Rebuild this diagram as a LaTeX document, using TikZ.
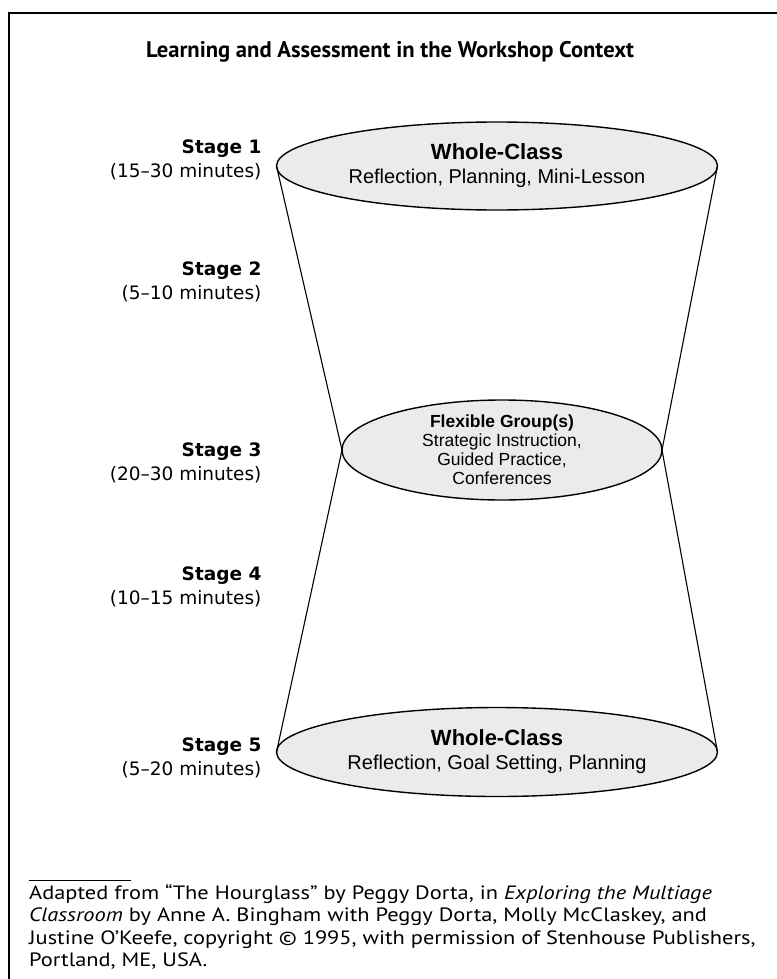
\documentclass[tikz,border=0pt]{standalone}
\usepackage{fontspec}
\setmainfont{PT Sans}
\newfontfamily\notefont{PT Sans}[FakeStretch=1.16]
\newfontfamily\ellfont{Liberation Sans}
\newfontfamily\stagefont{DejaVu Sans}
\usetikzlibrary{shapes.geometric}
\definecolor{ellfill}{HTML}{EBEBEB}
\tikzset{
  bowl/.style={ellipse, draw=black, line width=1.4pt, fill=ellfill, inner sep=0pt, outer sep=0pt, align=center, font=\ellfont\fontsize{20}{24}\selectfont},
  midbowl/.style={bowl, font=\ellfont\fontsize{17.5}{19}\selectfont},
  stagelbl/.style={anchor=east, align=right, font=\stagefont\fontsize{18.5}{24}\selectfont},
  side/.style={line width=1.1pt},
}
\begin{document}
\begin{tikzpicture}[x=1pt,y=-1pt]
\useasboundingbox (0,0) rectangle (776,979);
\draw[line width=2pt] (9,13) rectangle (800,1010);
\node (title) at (390,52) {\fontsize{22.6}{26}\selectfont\bfseries Learning and Assessment in the Workshop Context};

\node[bowl, minimum width=441pt, minimum height=88pt] (top) at (497,166) {{\bfseries\fontsize{22}{24}\selectfont Whole-Class}\\Reflection, Planning, Mini-Lesson};
\node[midbowl, minimum width=320pt, minimum height=100pt] (mid) at (502,450) {{\bfseries Flexible Group(s)}\\Strategic Instruction,\\Guided Practice,\\Conferences};
\node[bowl, minimum width=441pt, minimum height=89pt] (bot) at (497,752) {{\bfseries\fontsize{22}{24}\selectfont Whole-Class}\\Reflection, Goal Setting, Planning};

\draw[side] (top.west) -- (mid.west) -- (bot.west);
\draw[side] (top.east) -- (mid.east) -- (bot.east);

\node[stagelbl] (s1) at (265,160) {{\bfseries Stage 1}\\(15–30 minutes)};
\node[stagelbl] (s2) at (265,282) {{\bfseries Stage 2}\\(5–10 minutes)};
\node[stagelbl] (s3) at (265,463) {{\bfseries Stage 3}\\(20–30 minutes)};
\node[stagelbl] (s4) at (265,587) {{\bfseries Stage 4}\\(10–15 minutes)};
\node[stagelbl] (s5) at (265,758) {{\bfseries Stage 5}\\(5–20 minutes)};

\coordinate (r1) at (29,880);
\coordinate (r2) at (131,880);
\draw[line width=0.9pt] (r1) -- (r2);
\node[anchor=north west, align=left, inner sep=0pt, font=\notefont\fontsize{19.3}{22.4}\selectfont] (note) at (29,884) {Adapted from “The Hourglass” by Peggy Dorta, in \emph{Exploring the Multiage}\\\emph{Classroom} by Anne A. Bingham with Peggy Dorta, Molly McClaskey, and\\Justine O’Keefe, copyright © 1995, with permission of Stenhouse Publishers,\\Portland, ME, USA.};
\end{tikzpicture}
\end{document}
